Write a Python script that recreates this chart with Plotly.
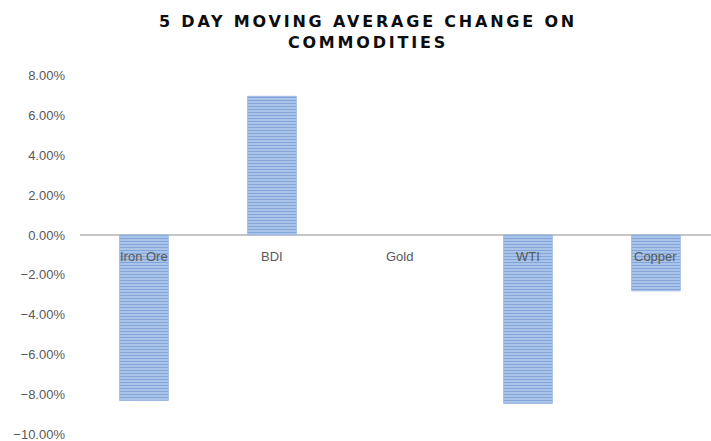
import plotly.graph_objects as go

categories = ["Iron Ore", "BDI", "Gold", "WTI", "Copper"]
values = [-0.083, 0.0695, 0.0, -0.0845, -0.028]
tick_vals = [-0.10, -0.08, -0.06, -0.04, -0.02, 0.0, 0.02, 0.04, 0.06, 0.08]
title_text = "5 DAY MOVING AVERAGE CHANGE ON<br>COMMODITIES"

fig = go.Figure()
fig.add_trace(go.Bar(
    x=categories,
    y=values,
    width=0.38,
    marker=dict(
        color="#BCD0EE",
        line=dict(color="#9DB9E3", width=[1, 1, 0, 1, 1]),
        pattern=dict(shape="-", fgcolor="#4A7BC2", bgcolor="#BCD0EE", size=3, solidity=0.55),
    ),
    hoverinfo="x+y",
))

for c in categories:
    fig.add_annotation(
        x=c, y=0, xref="x", yref="y", text=c, showarrow=False,
        yanchor="middle", yshift=-22,
        font=dict(family="Liberation Sans Narrow, Liberation Sans, Arial", size=13, color="#595959"),
    )

fig.update_layout(
    width=711, height=441,
    margin=dict(l=80, r=0, t=75, b=6),
    paper_bgcolor="white", plot_bgcolor="white",
    showlegend=False,
    title=dict(
        text=title_text, x=368 / 711, xanchor="center", xref="container",
        y=1 - 27 / 441, yanchor="top", yref="container",
        font=dict(family="DejaVu Sans, Arial", size=16, color="#0D0D0D", weight="bold"),
    ),
    xaxis=dict(
        range=[-0.5, 4.43], showticklabels=False, showgrid=False,
        zeroline=False, showline=False, ticks="",
    ),
    yaxis=dict(
        range=[-0.1003, 0.0802], tickvals=tick_vals, tickformat=".2%",
        showgrid=False, zeroline=True, zerolinecolor="#C6C6C6", zerolinewidth=2,
        showline=False, ticks="", ticklabelstandoff=14, ticklabeloverflow="allow",
        tickfont=dict(family="Liberation Sans Narrow, Liberation Sans, Arial", size=13, color="#595959"),
    ),
)

post = """
var s = document.createElement('style');
s.innerHTML = '.gtitle { letter-spacing: 2.8px; }';
document.head.appendChild(s);
"""
fig.write_html("out.html", post_script=post)
